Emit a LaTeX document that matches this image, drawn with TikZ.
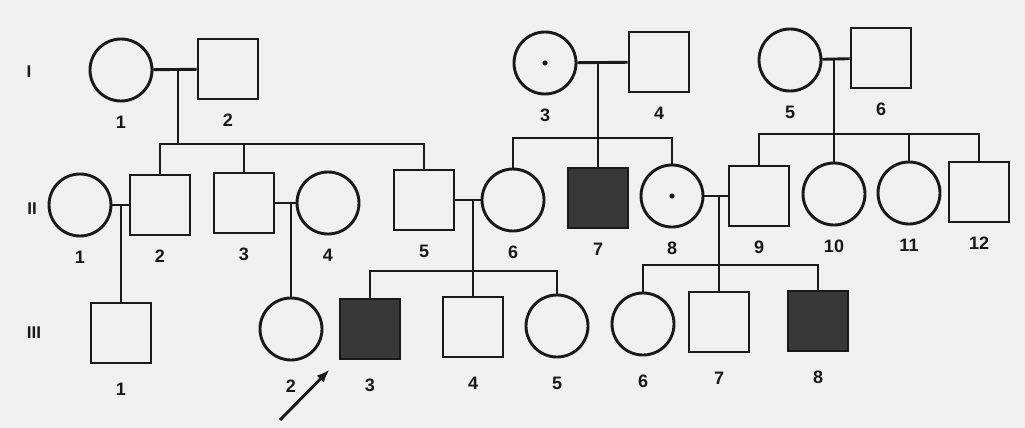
\documentclass[tikz,border=0pt]{standalone}
\usepackage{fontspec}
\setmainfont{Liberation Sans}
\usetikzlibrary{arrows.meta,positioning,calc}

\begin{document}
\begin{tikzpicture}[
    x=1pt, y=-1pt,
    line width=2.9pt,
    label distance=9pt,
    female/.style={circle, draw=black!90, minimum size=62pt, inner sep=0pt},
    male/.style={rectangle, draw=black!90, minimum size=60pt, inner sep=0pt},
    affected/.style={male, fill=black!78},
    carrier/.style={female, path picture={\fill[black!90] (path picture bounding box.center) circle (2.6pt);}},
    num/.style={font=\fontsize{18}{20}\selectfont\bfseries, text=black!90},
    gen/.style={font=\fontsize{17}{20}\selectfont\bfseries, text=black!90},
    line/.style={draw=black!90, line width=2.9pt},
    arr/.style={-{Latex[length=13pt,width=10pt]}, line width=2.9pt, draw=black!90},
    every label/.style={num},
]
\useasboundingbox (0,0) rectangle (1025,428);
\fill[black!6] (0,0) rectangle (1025,428);

% generation numbers
\node[gen] (gI) at (29,72) {I};
\node[gen] (gII) at (32,209) {II};
\node[gen] (gIII) at (34,333) {III};

% generation I
\node[female, label=below:1] (I1) at (121,70) {};
\node[male, label=below:2] (I2) at (228,69) {};
\node[carrier, label=below:3] (I3) at (545,63) {};
\node[male, label=below:4] (I4) at (659,62) {};
\node[female, label=below:5] (I5) at (790,60) {};
\node[male, label=below:6] (I6) at (881,58) {};

% generation II
\node[female, label=below:1] (II1) at (80,205) {};
\node[male, label=below:2] (II2) at (160,205) {};
\node[male, label=below:3] (II3) at (244,203) {};
\node[female, label=below:4] (II4) at (328,203) {};
\node[male, label=below:5] (II5) at (424,200) {};
\node[female, label=below:6] (II6) at (513,200) {};
\node[affected, label=below:7] (II7) at (598,198) {};
\node[carrier, label=below:8] (II8) at (672,196) {};
\node[male, label=below:9] (II9) at (759,196) {};
\node[female, label=below:10] (II10) at (834,194) {};
\node[female, label=below:11] (II11) at (909,193) {};
\node[male, label=below:12] (II12) at (979,192) {};

% generation III
\begin{scope}[label distance=14pt]
\node[male, label=below:1] (III1) at (121,333) {};
\node[female, label=below:2] (III2) at (291,329) {};
\node[affected, label=below:3] (III3) at (370,329) {};
\node[male, label=below:4] (III4) at (473,327) {};
\node[female, label=below:5] (III5) at (557,326) {};
\node[female, label=below:6] (III6) at (643,324) {};
\node[male, label=below:7] (III7) at (719,322) {};
\node[affected, label=below:8] (III8) at (818,321) {};
\end{scope}

% couples
\draw[line] (I1) -- (I2);
\draw[line] (I3) -- (I4);
\draw[line] (I5) -- (I6);
\draw[line] (II1) -- (II2);
\draw[line] (II3) -- (II4);
\draw[line] (II5) -- (II6);
\draw[line] (II8) -- (II9);

% descent and sibships
\coordinate (m1) at (178,69.5);
\coordinate (s1) at (178,144);
\draw[line] (m1) -- (s1);
\draw[line] (II2.north) |- (s1) -| (II5.north);
\draw[line] (II3.north) -- (II3.north |- s1);

\coordinate (m2) at (598,62.5);
\coordinate (s2) at (598,138);
\draw[line] (m2) -- (II7.north);
\draw[line] (II6.north) |- (s2) -| (II8.north);

\coordinate (m3) at (834,59);
\coordinate (s3) at (834,134);
\draw[line] (m3) -- (II10.north);
\draw[line] (II9.north) |- (s3) -| (II12.north);
\draw[line] (II11.north) -- (II11.north |- s3);

\coordinate (m4) at (121,205);
\draw[line] (m4) -- (III1.north);

\coordinate (m5) at (291,203);
\draw[line] (m5) -- (III2.north);

\coordinate (m6) at (473,200);
\coordinate (s6) at (473,271);
\draw[line] (m6) -- (III4.north);
\draw[line] (III3.north) |- (s6) -| (III5.north);

\coordinate (m7) at (719,196);
\coordinate (s7) at (719,265);
\draw[line] (m7) -- (III7.north);
\draw[line] (III6.north) |- (s7) -| (III8.north);

% proband
\coordinate (ptr) at (280,420);
\draw[arr, shorten >=13pt] (ptr) -- (III3.south west);
\end{tikzpicture}
\end{document}
